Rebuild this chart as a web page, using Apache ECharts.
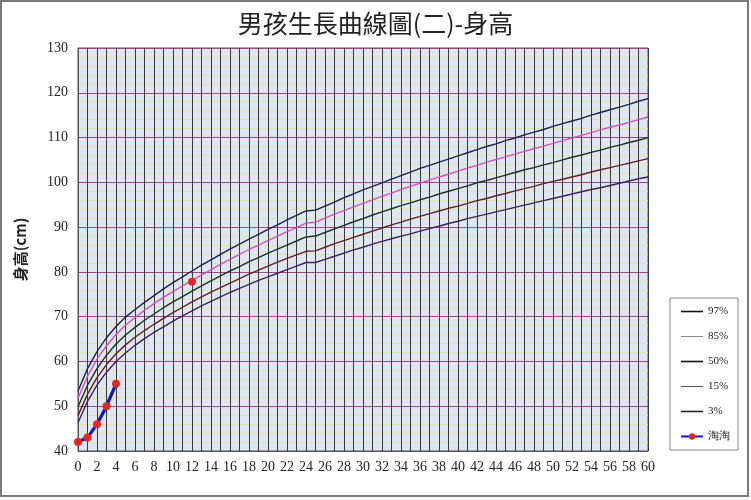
<!DOCTYPE html>
<html>
<head>
<meta charset="utf-8">
<script src="https://cdn.jsdelivr.net/npm/echarts@6/dist/echarts.min.js"></script>
<style>
html,body{margin:0;padding:0;background:#fff;}
#chart{width:751px;height:500px;}
</style>
</head>
<body>
<div id="chart"></div>
<script>
// ---- data ----
var months = [0,1,2,3,4,5,6,7,8,9,10,11,12,13,14,15,16,17,18,19,20,21,22,23,24,25,26,27,28,29,30,31,32,33,34,35,36,37,38,39,40,41,42,43,44,45,46,47,48,49,50,51,52,53,54,55,56,57,58,59,60];
var p97 = [53.4,58.4,62.2,65.3,67.8,69.9,71.6,73.2,74.7,76.2,77.6,78.9,80.2,81.5,82.7,83.9,85.1,86.2,87.3,88.4,89.5,90.5,91.6,92.6,93.6,93.8,94.7,95.6,96.6,97.4,98.3,99.1,99.9,100.7,101.5,102.3,103.1,103.8,104.5,105.2,105.9,106.6,107.3,108.0,108.6,109.3,109.9,110.6,111.2,111.8,112.5,113.1,113.7,114.3,115.0,115.6,116.2,116.8,117.4,118.1,118.7];
var p85 = [51.8,56.7,60.5,63.5,66.0,68.1,69.8,71.4,72.9,74.3,75.6,76.9,78.1,79.3,80.5,81.7,82.8,83.9,85.0,86.0,87.0,88.0,89.0,89.9,90.9,91.1,92.0,92.9,93.7,94.5,95.3,96.1,96.9,97.6,98.4,99.1,99.8,100.5,101.2,101.8,102.5,103.2,103.8,104.5,105.1,105.7,106.3,106.9,107.5,108.1,108.7,109.3,109.9,110.5,111.1,111.7,112.3,112.8,113.4,114.0,114.6];
var p50 = [49.9,54.7,58.4,61.4,63.9,65.9,67.6,69.2,70.6,72.0,73.3,74.5,75.7,76.9,78.0,79.1,80.2,81.2,82.3,83.2,84.2,85.1,86.0,86.9,87.8,88.0,88.8,89.6,90.4,91.2,91.9,92.7,93.4,94.1,94.8,95.4,96.1,96.7,97.4,98.0,98.6,99.2,99.9,100.4,101.0,101.6,102.2,102.8,103.3,103.9,104.4,105.0,105.6,106.1,106.7,107.2,107.8,108.3,108.9,109.4,110.0];
var p15 = [47.9,52.7,56.4,59.3,61.7,63.7,65.4,66.9,68.3,69.6,70.9,72.1,73.3,74.4,75.5,76.5,77.5,78.5,79.5,80.4,81.3,82.2,83.0,83.8,84.6,84.7,85.5,86.3,87.0,87.7,88.4,89.1,89.8,90.5,91.1,91.8,92.4,93.0,93.6,94.2,94.7,95.3,95.9,96.4,97.0,97.5,98.1,98.6,99.1,99.7,100.2,100.7,101.2,101.7,102.3,102.8,103.3,103.8,104.3,104.8,105.3];
var p3 = [46.3,51.1,54.7,57.6,60.0,61.9,63.6,65.1,66.5,67.7,69.0,70.2,71.3,72.4,73.4,74.4,75.4,76.3,77.2,78.1,78.9,79.7,80.5,81.3,82.1,82.1,82.8,83.5,84.2,84.9,85.5,86.2,86.8,87.4,88.0,88.5,89.1,89.7,90.2,90.8,91.3,91.9,92.4,92.9,93.4,93.9,94.4,94.9,95.4,95.9,96.4,96.9,97.4,97.9,98.4,98.8,99.3,99.8,100.3,100.8,101.2];
var taoMonths = [0,1,2,3,4,5,12];
var taoValues = [42,43,46,50,55,null,77.8];
var seriesNames = ['97%','85%','50%','15%','3%','淘淘'];
var yTicks = [40,50,60,70,80,90,100,110,120,130];

function pairs(xs, ys){ return xs.map(function(x,i){ return [x, ys[i]==null ? '-' : ys[i]]; }); }

var serif = 'Liberation Serif';
var chart = echarts.init(document.getElementById('chart'));
var curveColors = ['#1b2150','#cc55bb','#173322','#5e2222','#3a2460'];
var legendLineColors = ['#111','#888','#111','#555','#222'];
var curves = [p97,p85,p50,p15,p3];

var series = curves.map(function(c,i){
  return {
    name: seriesNames[i], type:'line', data: pairs(months,c),
    symbol:'none', smooth:false, z: 3,
    lineStyle:{color:curveColors[i], width:1.4},
    itemStyle:{color:curveColors[i]}
  };
});
series.push({
  name: seriesNames[5], type:'line', data: pairs(taoMonths,taoValues),
  symbol:'circle', symbolSize:8, showSymbol:true, connectNulls:false, z:5,
  lineStyle:{color:'#1414b4', width:3.2},
  itemStyle:{color:'#e02828', borderWidth:0}
});

var legendData = seriesNames.map(function(n,i){
  if (i < 5) {
    return {name:n, itemStyle:{opacity:0}, lineStyle:{color:legendLineColors[i], width: i===1||i===3 ? 1 : 1.6}};
  }
  return {name:n};
});

chart.setOption({
  animation:false,
  backgroundColor:'#ffffff',
  title:{
    text:'男孩生長曲線圖(二)-身高', left:'center', top:6,
    textStyle:{fontFamily:'Noto Sans CJK TC', fontWeight:'normal', fontSize:25, color:'#222'}
  },
  graphic:[{
    type:'rect', shape:{x:1,y:1,width:747,height:495},
    style:{fill:'none', stroke:'#7a7a7a', lineWidth:2}, silent:true, z:-1
  }],
  legend:{
    orient:'vertical', left:670, top:298,
    padding:[8,8,8,10], itemGap:14, itemWidth:22, itemHeight:8,
    borderColor:'#888', borderWidth:1, backgroundColor:'#fff',
    textStyle:{fontFamily:serif, fontSize:11, color:'#222', width:32},
    data: legendData
  },
  grid:{
    left:78, top:48, width:570, height:403,
    show:true, backgroundColor:'#dfe6f1', borderColor:'#555', borderWidth:1
  },
  xAxis:{
    type:'value', min:0, max:60, interval:1,
    axisLine:{show:true, lineStyle:{color:'#555'}},
    axisTick:{show:false},
    axisLabel:{
      fontFamily:serif, fontSize:14, color:'#222', margin:9,
      formatter:function(v){ return v % 2 === 0 ? String(v) : ''; }
    },
    splitLine:{show:true, lineStyle:{color:'#3a3a3a', width:1}}
  },
  yAxis:{
    type:'value', min:yTicks[0], max:yTicks[yTicks.length-1], interval:10,
    name:'身高(cm)', nameLocation:'middle', nameRotate:90, nameGap:50,
    nameTextStyle:{fontFamily:'Noto Sans CJK TC', fontSize:15, fontWeight:'bold', color:'#222'},
    axisLine:{show:true, lineStyle:{color:'#555'}},
    axisTick:{show:false},
    axisLabel:{fontFamily:serif, fontSize:14, color:'#222', margin:10},
    splitLine:{show:true, lineStyle:{color:'#a4447c', width:1}},
    minorTick:{show:false, splitNumber:5},
    minorSplitLine:{show:true, lineStyle:{color:'#e0e4b0', width:1}}
  },
  series: series
});
</script>
</body>
</html>
